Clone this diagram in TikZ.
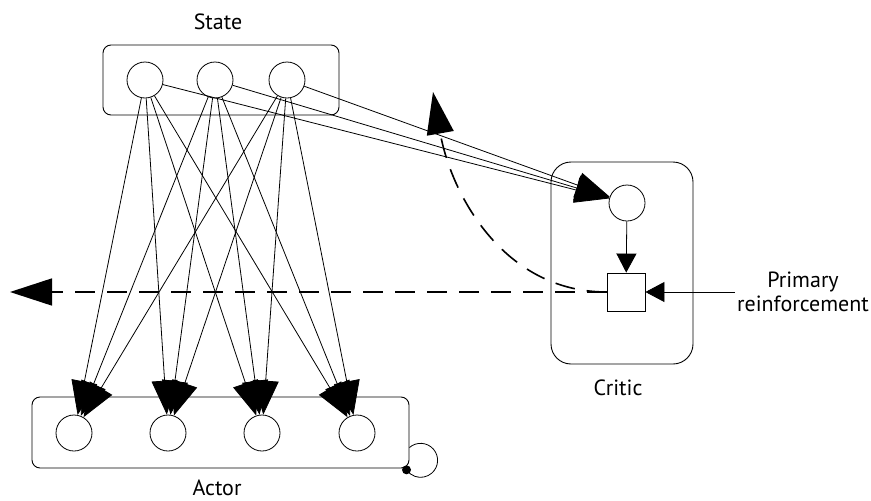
\documentclass[tikz,border=0pt]{standalone}
\usepackage{fontspec}
\setmainfont{PT Sans}
\usetikzlibrary{arrows.meta}
\begin{document}
\begin{tikzpicture}[
    x=1pt, y=-1pt,
    every node/.style={font=\fontsize{22}{24}\selectfont},
    unit/.style={circle, draw, line width=0.8pt, minimum size=36pt, inner sep=0pt},
    group/.style={rectangle, draw, line width=0.9pt, rounded corners=8pt},
    link/.style={line width=0.8pt, -{Triangle[length=34pt,width=26pt]}},
    feed/.style={line width=0.8pt, -{Triangle[length=19pt,width=20pt]}},
    signal/.style={line width=1.6pt, dash pattern=on 20pt off 12pt, -{Triangle[length=42pt,width=27pt]}}
]
\useasboundingbox (0,0) rectangle (871,501);

% groups
\node[group, minimum width=236pt, minimum height=70pt] (statebox) at (221,80) {};
\node[group, minimum width=377pt, minimum height=71pt] (actorbox) at (220.5,432.5) {};
\node[group, rounded corners=20pt, minimum width=142pt, minimum height=202pt] (criticbox) at (622,263) {};

\node (statename) at (218,22) {State};
\node (actorname) at (217,488) {Actor};
\node (criticname) at (618,388) {Critic};

% units
\foreach \x [count=\i] in {145,215,287}
    \node[unit] (s\i) at (\x,80) {};
\foreach \x [count=\j] in {74,168,262,357}
    \node[unit] (a\j) at (\x,433) {};
\node[unit] (value) at (627,203) {};
\node[rectangle, draw, line width=0.8pt, minimum size=38pt, inner sep=0pt] (td) at (626,292) {};

% weights
\foreach \i in {1,2,3} {
    \foreach \j in {1,...,4}
        \draw[link] (s\i) -- (a\j);
    \draw[link] (s\i) -- (value);
}

\draw[feed] (value) -- (td);
\node[align=center, inner sep=2pt] (primary) at (803,292) {Primary\\reinforcement};
\draw[feed] (primary.west) -- (td.east);

% error signal
\coordinate (leftend) at (10,292);
\coordinate (upend) at (433,92);
\draw[signal] (td.west) -- (leftend);
\draw[signal] (td.west) to[out=180,in=-80] (upend);

% self loop
\draw[line width=0.8pt] ([yshift=-15pt]actorbox.east) arc[start angle=-131, end angle=146, radius=17]
    node[circle, fill, inner sep=0pt, minimum size=9pt] (knot) {};
\end{tikzpicture}
\end{document}
